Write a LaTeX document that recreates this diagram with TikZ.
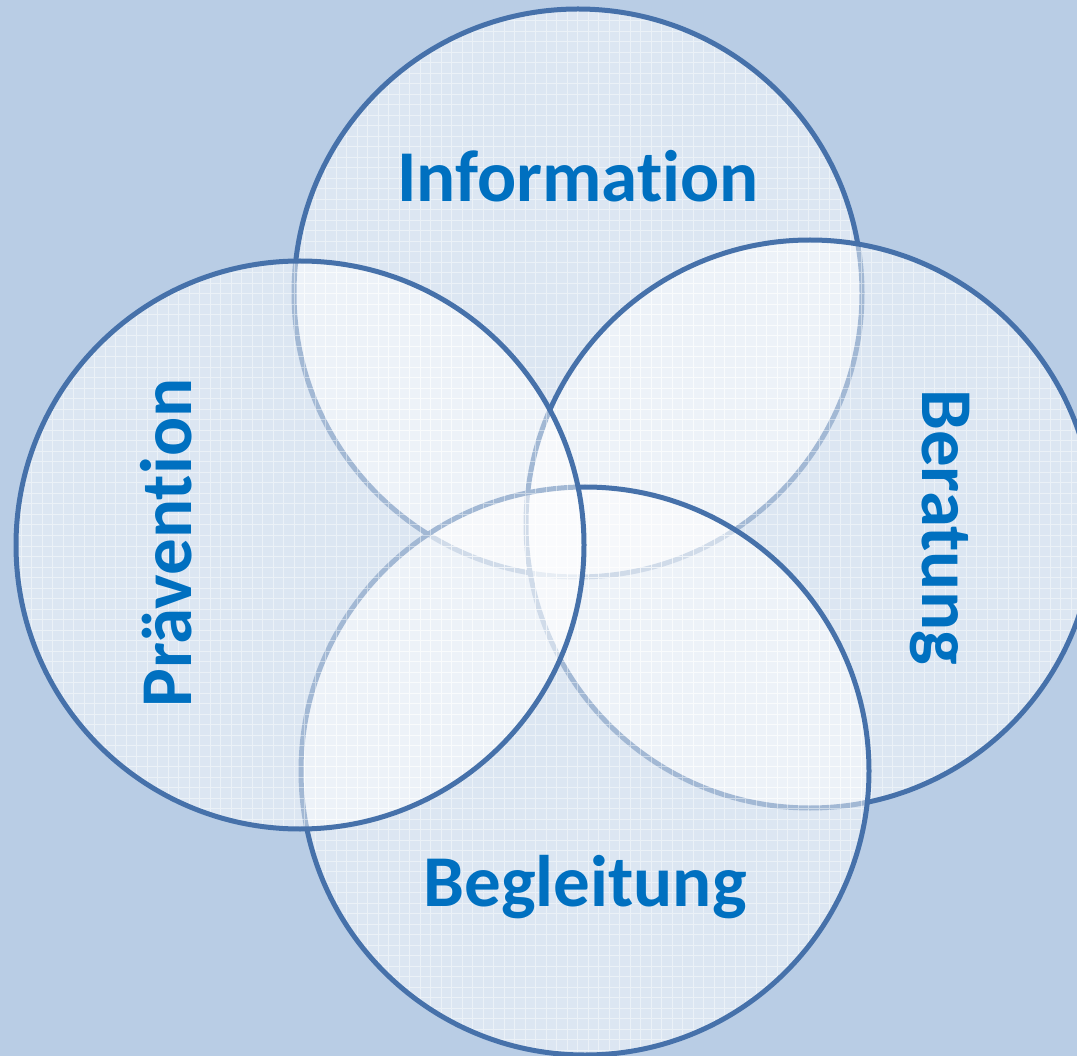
\documentclass[tikz,border=0pt]{standalone}
\usepackage{fontspec}
\setmainfont[Ligatures=NoCommon]{Carlito}
\definecolor{bgblue}{HTML}{B9CDE5}
\definecolor{ringblue}{HTML}{4671AA}
\definecolor{labelblue}{HTML}{0070C0}
\tikzset{
  ring/.style={draw=ringblue, line width=5pt},
  label/.style={text=labelblue, font=\fontsize{73}{80}\selectfont\bfseries, inner sep=0pt},
}
% one translucent ring with a fine white grid inside
\newcommand{\gridring}[3]{%
  \fill[white, fill opacity=0.5] (#1,#2) circle (#3);
  \begin{scope}
    \clip (#1,#2) circle (#3);
    \draw[white, opacity=0.45, line width=1pt, step=10.5pt] (0,0) grid (1077,1056);
  \end{scope}
  \draw[ring] (#1,#2) circle (#3);
}
\begin{document}
\begin{tikzpicture}[x=1pt, y=-1pt]
  \fill[bgblue] (0,0) rectangle (1077,1056);
  \useasboundingbox (0,0) rectangle (1077,1056);
  \begin{scope}
    \clip (0,0) rectangle (1077,1056);
    \gridring{578}{293}{284}
    \gridring{810}{524}{284}
    \gridring{585}{771}{284}
    \gridring{300}{545}{284}
  \end{scope}
  \node[label] (info) at (578,176) {Information};
  \node[label, rotate=-90] (berat) at (940,527) {Beratung};
  \node[label] (begl) at (585,887) {Begleitung};
  \node[label, rotate=90] (praev) at (166,543) {Prävention};
\end{tikzpicture}
\end{document}
